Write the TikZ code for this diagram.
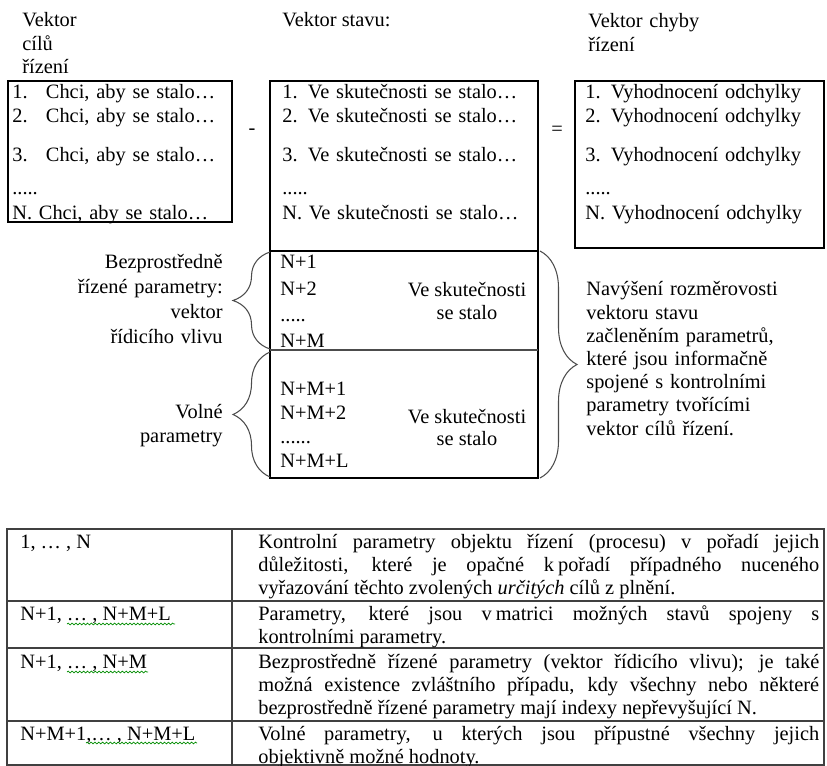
\documentclass[tikz,border=0pt]{standalone}
\usepackage{fontspec}
\setmainfont{Liberation Serif}
\usetikzlibrary{decorations.pathreplacing,decorations.pathmorphing}

\begin{document}
\fontsize{11.6pt}{13.2pt}\selectfont
\tolerance=10000 \hbadness=10000
\begin{tikzpicture}[x=0.02cm,y=-0.02cm,
  txt/.style={anchor=base west,inner sep=0pt},
  lst/.style={anchor=base west,inner sep=0pt,text width=5.2cm,align=left},
  box/.style={line width=1.2pt},
  brc/.style={draw=black!70,line width=0.6pt,decorate,decoration={brace,amplitude=0.74cm}},
  cell/.style={anchor=base west,inner sep=0pt,text width=11.22cm,align=justify},
  grid/.style={draw=black!75,line width=0.6pt},
  wavy/.style={draw=green!55!black,line width=0.4pt,decorate,decoration={snake,amplitude=0.5pt,segment length=2.2pt}}]
\useasboundingbox (0,0) rectangle (827,766);

\draw[box] (8,81) rectangle (232,222);
\draw[box] (270,81) rectangle (538,251);
\draw[box] (575,81) rectangle (824,248);
\draw[box] (270,251) rectangle (538,478);
\draw[black!70,line width=0.6pt] (270,350) -- (538,350);

\node[lst] (cilLbl) at (22,27) {Vektor\\cílů\\řízení};
\node[txt] (stavLbl) at (282,27) {Vektor stavu:};
\node[lst] (chybLbl) at (588,28) {Vektor chyby\\řízení};

\node[lst] (cilList) at (12,99) {1.\hspace{0.9em}Chci, aby se stalo…\\2.\hspace{0.9em}Chci, aby se stalo…\\[9pt]3.\hspace{0.9em}Chci, aby se stalo…\\[6pt].....\\[0.6pt]N. Chci, aby se stalo…};
\node[lst] (stavList) at (282,99) {1. Ve skutečnosti se stalo…\\2. Ve skutečnosti se stalo…\\[9pt]3. Ve skutečnosti se stalo…\\[6pt].....\\[0.6pt]N. Ve skutečnosti se stalo…};
\node[lst] (chybList) at (585,99) {1. Vyhodnocení odchylky\\2. Vyhodnocení odchylky\\[9pt]3. Vyhodnocení odchylky\\[6pt].....\\[0.6pt]N. Vyhodnocení odchylky};

\node[inner sep=0pt] (minusSign) at (252,132) {-};
\node[inner sep=0pt] (eqSign) at (557,131) {=};

\node[lst] (ridList) at (280,269) {N+1\\[1.6pt]N+2\\[1.6pt].....\\[1.6pt]N+M};
\node[lst] (volList) at (280,395) {N+M+1\\[0.6pt]N+M+2\\[0.6pt]......\\[0.6pt]N+M+L};
\node[anchor=base,inner sep=0pt] (ridVe1) at (467,297) {Ve skutečnosti};
\node[anchor=base,inner sep=0pt] (ridVe2) at (467,319) {se stalo};
\node[anchor=base,inner sep=0pt] (volVe1) at (467,423) {Ve skutečnosti};
\node[anchor=base,inner sep=0pt] (volVe2) at (467,445) {se stalo};

\node[anchor=base east,inner sep=0pt,text width=4cm,align=right] (ridLbl) at (223,269) {Bezprostředně\\[1pt]řízené parametry:\\[1pt]vektor\\[1pt]řídicího vlivu};
\node[anchor=base east,inner sep=0pt,text width=4cm,align=right] (volLbl) at (223,418) {Volné\\[1pt]parametry};

\draw[brc] (270,349) -- (270,252);
\draw[brc] (270,477) -- (270,352);
\draw[brc] (540,251) -- (540,478);

\node[lst] (noteTxt) at (586,296) {Navýšení rozměrovosti\\vektoru stavu\\začleněním parametrů,\\které jsou informačně\\spojené s kontrolními\\parametry tvořícími\\vektor cílů řízení.};

\draw[grid] (7,529) rectangle (824,765);
\draw[grid] (232,529) -- (232,765);
\draw[grid] (7,601) -- (824,601);
\draw[grid] (7,648) -- (824,648);
\draw[grid] (7,721) -- (824,721);

\node[txt] (idxA) at (20,548) {1, … , N};
\node[txt] (idxB) at (20,620) {N+1, … , N+M+L};
\node[txt] (idxC) at (20,668) {N+1, … , N+M};
\node[txt] (idxD) at (20,740) {N+M+1,… , N+M+L};
\draw[wavy] (67,624) -- (175,624);
\draw[wavy] (67,672) -- (148,672);
\draw[wavy] (86,743) -- (197,743);

\node[cell] (descA) at (258,548) {Kontrolní parametry objektu řízení (procesu) v pořadí jejich\linebreak důležitosti, které je opačné k\hspace{0.2em}pořadí případného nuceného\linebreak vyřazování těchto zvolených \textit{určitých} cílů z plnění.};
\node[cell] (descB) at (258,620) {Parametry, které jsou v\hspace{0.2em}matrici možných stavů spojeny s\linebreak kontrolními parametry.};
\node[cell] (descC) at (258,668) {Bezprostředně řízené parametry (vektor řídicího vlivu); je také\linebreak možná existence zvláštního případu, kdy všechny nebo některé\linebreak bezprostředně řízené parametry mají indexy nepřevyšující N.};
\node[cell] (descD) at (258,740) {Volné parametry, u kterých jsou přípustné všechny jejich\linebreak objektivně možné hodnoty.};
\end{tikzpicture}
\end{document}
